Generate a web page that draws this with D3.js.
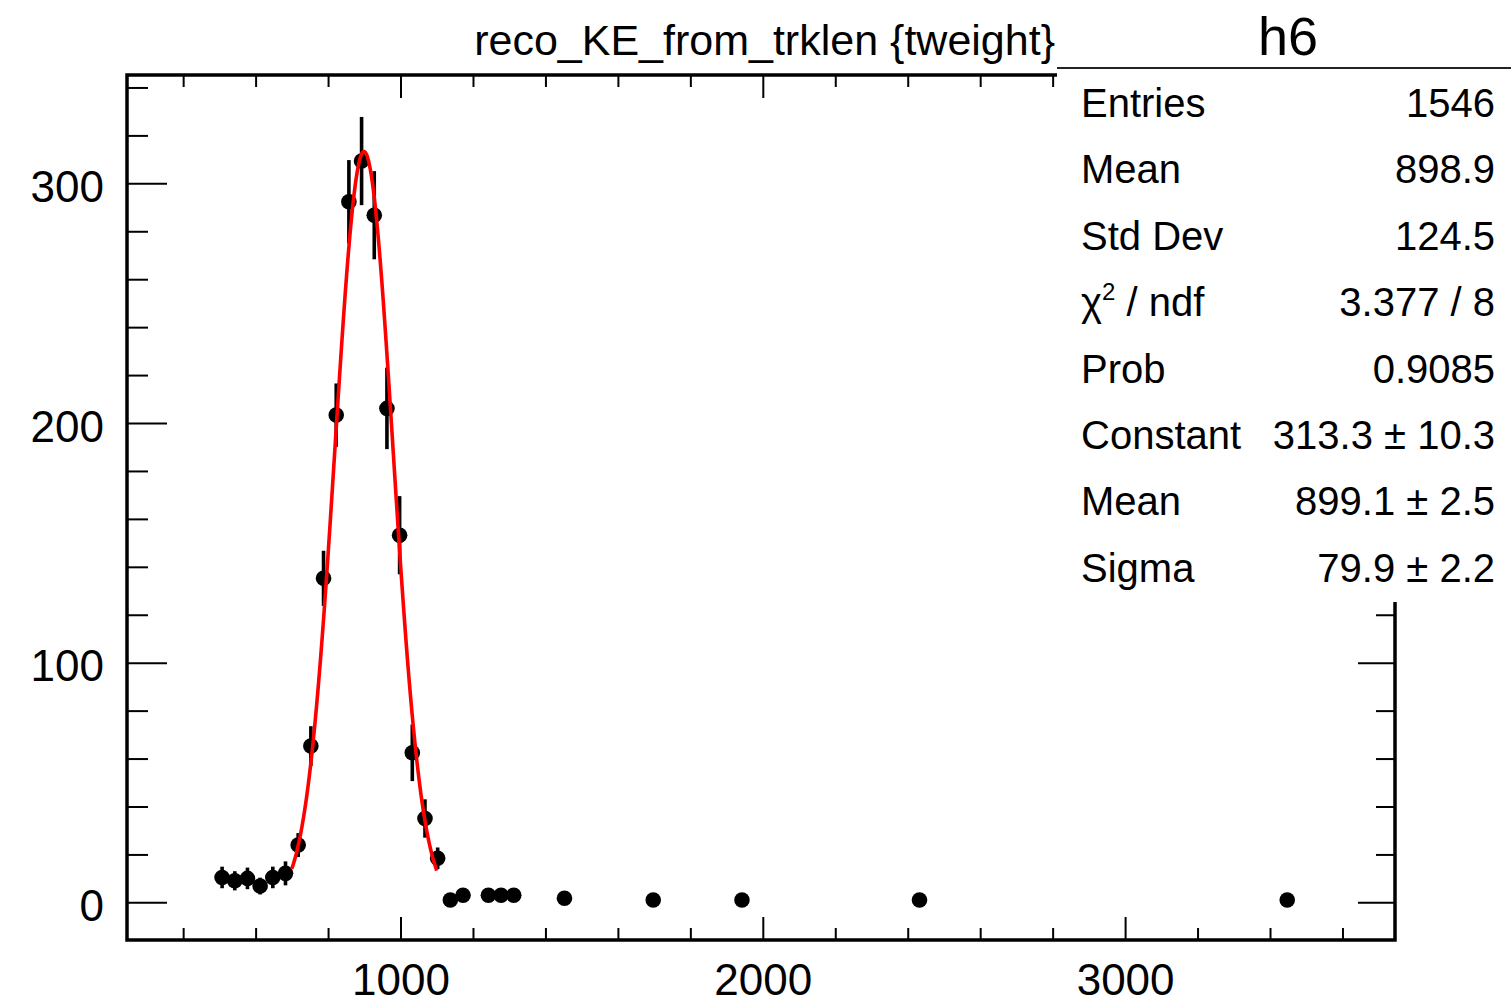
<!DOCTYPE html>
<html>
<head>
<meta charset="utf-8">
<script src="https://cdn.jsdelivr.net/npm/d3@7"></script>
<style>
  body { margin: 0; background: #ffffff; }
  svg { display: block; font-family: "Liberation Sans", Arial, Helvetica, sans-serif; }
</style>
</head>
<body>
<svg id="canvas" width="1511" height="1004"></svg>
<script>
// Histogram h6: reco_KE_from_trklen {tweight}, 100 bins of width 35 over [245, 3745]
const binCenters = [507.5, 542.5, 577.5, 612.5, 647.5, 682.5, 717.5, 752.5, 787.5, 822.5,
                    857.5, 892.5, 927.5, 962.5, 997.5, 1032.5, 1067.5, 1102.5, 1137.5, 1172.5,
                    1242.5, 1277.5, 1312.5, 1452.5, 1697.5, 1942.5, 2432.5, 3447.5];
const binValues  = [10.4, 9.0, 10.0, 6.8, 10.4, 12.1, 23.9, 65.2, 135.2, 203.3,
                    292.3, 309.3, 286.7, 206.1, 153.2, 62.4, 35.0, 18.4, 1.0, 3.0,
                    3.0, 3.0, 3.0, 1.7, 1.0, 1.0, 1.0, 1.0];
const binErrors  = [4.5, 4.0, 4.5, 3.5, 4.5, 5.0, 5.0, 8.3, 11.5, 13.2,
                    17.4, 18.4, 18.4, 17.0, 16.3, 11.8, 8.0, 4.5, 1.0, 2.0,
                    2.0, 2.0, 2.0, 1.5, 1.0, 1.0, 1.0, 1.0];
const binWidth = 35;
const xRange = [245, 3745];
const yRange = [-15.7, 345.2];

// Axis ticks
const xMajorTicks = [1000, 2000, 3000];
const xMinorTicks = [400, 600, 800, 1200, 1400, 1600, 1800, 2200, 2400, 2600, 2800, 3200, 3400, 3600];
const yMajorTicks = [0, 100, 200, 300];
const yMinorTicks = [20, 40, 60, 80, 120, 140, 160, 180, 220, 240, 260, 280, 320, 340];

// Gaussian fit (gaus) over [700, 1100]
const fitRange = [700, 1100];
const fitParams = [313.3, 899.1, 79.9];   // Constant, Mean, Sigma
const fitPoints = 100;

// Statistics box
const statLabels = ["Entries", "Mean", "Std Dev", "CHI2", "Prob", "Constant", "Mean", "Sigma"];
const statValues = ["1546", "898.9", "124.5", "3.377 / 8", "0.9085", "313.3 \u00b1 10.3", "899.1 \u00b1 2.5", "79.9 \u00b1 2.2"];

const histTitle = "reco_KE_from_trklen {tweight}";
const statTitle = "h6";

// ---- layout ----
const frame = { left: 127, right: 1395, top: 75, bottom: 940 };
const svg = d3.select("#canvas");

const x = d3.scaleLinear().domain(xRange).range([frame.left, frame.right]);
const y = d3.scaleLinear().domain(yRange).range([frame.bottom, frame.top]);

const tickColor = "#000";

function styleAxis(g, width) {
  g.select(".domain").remove();
  g.selectAll(".tick line").attr("stroke", tickColor).attr("stroke-width", width);
}

// Bottom axis (ticks point inward)
svg.append("g")
  .attr("transform", `translate(0,${frame.bottom})`)
  .call(d3.axisBottom(x).tickValues(xMinorTicks).tickSize(-12).tickFormat(""))
  .call(g => styleAxis(g, 2));
svg.append("g")
  .attr("transform", `translate(0,${frame.bottom})`)
  .call(d3.axisBottom(x).tickValues(xMajorTicks).tickSize(-23).tickPadding(24).tickFormat(d3.format("d")))
  .call(g => styleAxis(g, 2))
  .call(g => g.selectAll("text")
    .attr("fill", "#000")
    .attr("font-size", 44)
    .attr("font-family", "'Liberation Sans', Arial, Helvetica, sans-serif"));

// Top axis, mirrored ticks
svg.append("g")
  .attr("transform", `translate(0,${frame.top})`)
  .call(d3.axisTop(x).tickValues(xMinorTicks).tickSize(-12).tickFormat(""))
  .call(g => styleAxis(g, 2));
svg.append("g")
  .attr("transform", `translate(0,${frame.top})`)
  .call(d3.axisTop(x).tickValues(xMajorTicks).tickSize(-23).tickFormat(""))
  .call(g => styleAxis(g, 2));

// Left axis
svg.append("g")
  .attr("transform", `translate(${frame.left},0)`)
  .call(d3.axisLeft(y).tickValues(yMinorTicks).tickSize(-21).tickFormat(""))
  .call(g => styleAxis(g, 2));
svg.append("g")
  .attr("transform", `translate(${frame.left},0)`)
  .call(d3.axisLeft(y).tickValues(yMajorTicks).tickSize(-40).tickPadding(23).tickFormat(d3.format("d")))
  .call(g => styleAxis(g, 2))
  .call(g => g.selectAll("text")
    .attr("fill", "#000")
    .attr("font-size", 44)
    .attr("dy", "0.41em")
    .attr("font-family", "'Liberation Sans', Arial, Helvetica, sans-serif"));

// Right axis, mirrored ticks
svg.append("g")
  .attr("transform", `translate(${frame.right},0)`)
  .call(d3.axisRight(y).tickValues(yMinorTicks).tickSize(-19).tickFormat(""))
  .call(g => styleAxis(g, 2));
svg.append("g")
  .attr("transform", `translate(${frame.right},0)`)
  .call(d3.axisRight(y).tickValues(yMajorTicks).tickSize(-37).tickFormat(""))
  .call(g => styleAxis(g, 2));

// Frame
svg.append("rect")
  .attr("x", frame.left).attr("y", frame.top)
  .attr("width", frame.right - frame.left).attr("height", frame.bottom - frame.top)
  .attr("fill", "none").attr("stroke", "#000").attr("stroke-width", 3.5);

// Histogram points with error bars
const bins = binCenters.map((c, i) => ({ c, v: binValues[i], e: binErrors[i] }));
const pts = svg.append("g");
pts.selectAll("line.ey").data(bins).join("line")
  .attr("class", "ey")
  .attr("x1", d => x(d.c)).attr("x2", d => x(d.c))
  .attr("y1", d => y(d.v - d.e)).attr("y2", d => y(d.v + d.e))
  .attr("stroke", "#000").attr("stroke-width", 3.6);
pts.selectAll("line.ex").data(bins).join("line")
  .attr("class", "ex")
  .attr("x1", d => x(d.c - binWidth / 2)).attr("x2", d => x(d.c + binWidth / 2))
  .attr("y1", d => y(d.v)).attr("y2", d => y(d.v))
  .attr("stroke", "#000").attr("stroke-width", 2);
pts.selectAll("circle").data(bins).join("circle")
  .attr("cx", d => x(d.c)).attr("cy", d => y(d.v)).attr("r", 7.8)
  .attr("fill", "#000");

// Fitted Gaussian
const [A, mu, sig] = fitParams;
const fitSamples = d3.range(fitPoints + 1).map(i => {
  const xv = fitRange[0] + (fitRange[1] - fitRange[0]) * i / fitPoints;
  return [xv, A * Math.exp(-0.5 * ((xv - mu) / sig) ** 2)];
});
svg.append("path")
  .datum(fitSamples)
  .attr("d", d3.line().x(d => x(d[0])).y(d => y(d[1])))
  .attr("fill", "none").attr("stroke", "#ff0000").attr("stroke-width", 3.6)
  .attr("stroke-linejoin", "round");

// Histogram title
svg.append("text")
  .attr("x", 1055).attr("y", 55)
  .attr("text-anchor", "end")
  .attr("font-size", 43)
  .attr("fill", "#000")
  .text(histTitle);

// Statistics box
const box = { left: 1057, top: 0, right: 1511, bottom: 602 };
svg.append("rect")
  .attr("x", box.left).attr("y", box.top)
  .attr("width", box.right - box.left).attr("height", box.bottom - box.top)
  .attr("fill", "#fff");
svg.append("line")
  .attr("x1", box.left).attr("x2", box.right)
  .attr("y1", 68).attr("y2", 68)
  .attr("stroke", "#222").attr("stroke-width", 2);
svg.append("text")
  .attr("x", 1288).attr("y", 55)
  .attr("text-anchor", "middle")
  .attr("font-size", 54)
  .attr("fill", "#000")
  .text(statTitle);

const rowY = i => 117 + 66.4 * i;
const statG = svg.append("g").attr("font-size", 40).attr("fill", "#000");
statLabels.forEach((lab, i) => {
  const t = statG.append("text").attr("x", 1081).attr("y", rowY(i));
  if (lab === "CHI2") {
    t.append("tspan").text("\u03c7");
    t.append("tspan").attr("font-size", 24).attr("dy", -16).text("2");
    t.append("tspan").attr("dy", 16).text(" / ndf");
  } else {
    t.text(lab);
  }
});
statG.selectAll("text.val").data(statValues).join("text")
  .attr("class", "val")
  .attr("x", 1495).attr("y", (d, i) => rowY(i))
  .attr("text-anchor", "end")
  .text(d => d);
</script>
</body>
</html>
